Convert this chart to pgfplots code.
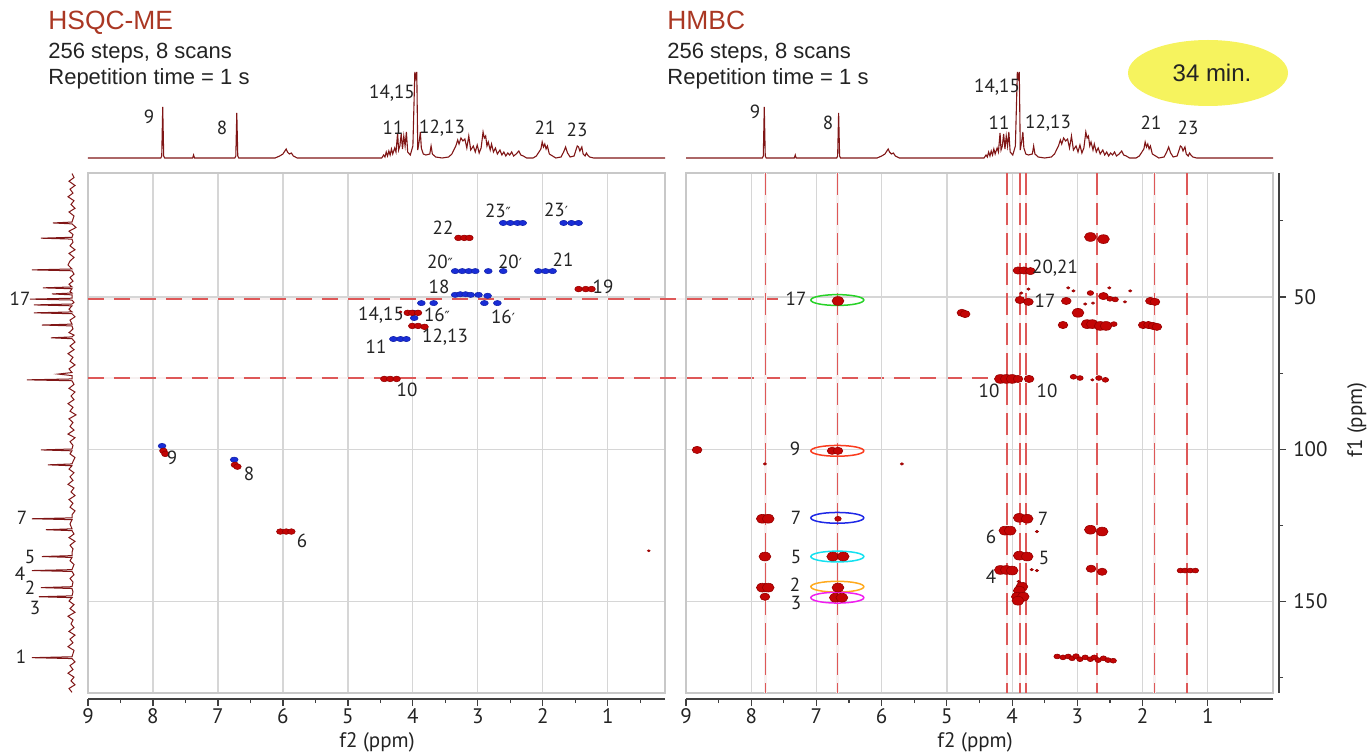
\documentclass[border=0pt]{standalone}
\usepackage{fontspec}
\setmainfont{Liberation Sans}
\newfontfamily\lab{PT Sans}
\newfontfamily\djv{DejaVu Sans}
\usepackage{pgfplots}
\pgfplotsset{compat=1.18}

\definecolor{specred}{RGB}{128,22,22}
\definecolor{titlered}{RGB}{170,55,35}
\definecolor{pkred}{RGB}{195,5,5}
\definecolor{pkedge}{RGB}{150,0,0}
\definecolor{pkblue}{RGB}{25,45,215}
\definecolor{gridc}{RGB}{214,214,214}
\definecolor{framec}{RGB}{200,200,200}
\definecolor{dashc}{RGB}{222,88,88}
\definecolor{palec}{RGB}{247,240,240}
\definecolor{txt}{RGB}{35,35,35}
\definecolor{yel}{RGB}{246,243,94}
\definecolor{egreen}{RGB}{40,210,40}
\definecolor{ered}{RGB}{250,60,30}
\definecolor{eblue}{RGB}{30,40,230}
\definecolor{ecyan}{RGB}{20,225,240}
\definecolor{eorange}{RGB}{255,170,30}
\definecolor{emag}{RGB}{240,30,240}

\newcommand\pr{{\djv\fontsize{7}{7}\selectfont\char"2032}}
\newcommand\dpr{{\djv\fontsize{7}{7}\selectfont\char"2033}}

\tikzset{
  vdash/.style={dashc, line width=0.7pt, dash pattern=on 11pt off 4pt},
  hdash/.style={dashc, line width=0.7pt, dash pattern=on 8pt off 5pt},
}
\pgfplotsset{
  twod/.style={scale only axis, height=260pt, ymin=9.3, ymax=180, y dir=reverse, x dir=reverse,
    xtick={1,...,8}, ytick={50,100,150}, xticklabels={}, yticklabels={}, major tick length=0pt,
    grid=major, major grid style={gridc, line width=0.6pt},
    axis line style={framec, line width=0.7pt}, clip=false},
  spec/.style={scale only axis, axis lines=none, ymin=-2, ymax=98, x dir=reverse, height=50pt},
  hr/.style={only marks, mark=*, mark size=#1, mark options={xscale=1.35, fill=pkred, draw=pkedge, line width=0.3pt}},
  hb/.style={only marks, mark=*, mark size=#1, mark options={xscale=1.5, fill=pkblue, draw=pkblue!80!black, line width=0.3pt}},
  xax/.style={scale only axis, height=2pt, ymin=0, ymax=1, x dir=reverse, axis y line=none, axis x line*=bottom,
    axis line style={-, draw=black!75, line width=0.6pt}, xtick={1,...,9}, minor xtick={0.5,1.5,...,8.5},
    tick align=outside, major tick length=3.6pt, minor tick length=2pt, tick style={black!75, line width=0.6pt},
    tick label style={font=\lab\fontsize{10.5}{11}\selectfont, text=txt, inner sep=1pt},
    /pgf/number format/assume math mode=true},
}

% 1H projection (ppm, height above baseline)
\pgfplotstableread{
x y
9.10 0
7.88 0
7.865 2
7.85 51
7.835 2
7.82 0
7.39 0
7.375 3
7.36 0
6.74 0
6.725 2
6.71 45
6.695 2
6.68 0
6.12 0
6.05 2
6.00 4
5.97 7
5.95 9
5.93 6
5.90 4
5.87 5
5.84 2
5.78 0
4.48 0
4.45 3
4.43 1
4.41 6
4.39 2
4.37 7
4.35 3
4.33 9
4.31 4
4.28 10
4.26 6
4.235 25
4.22 8
4.20 12
4.18 24
4.16 9
4.14 22
4.12 12
4.10 26
4.08 6
4.04 3
4.00 12
3.97 86
3.955 80
3.94 86
3.925 8
3.90 18
3.885 26
3.87 10
3.84 4
3.80 3
3.74 4
3.72 12
3.70 4
3.65 1
3.55 0
3.45 1
3.40 4
3.37 8
3.34 12
3.31 18
3.29 14
3.26 20
3.23 17
3.20 19
3.17 10
3.14 22
3.11 8
3.07 12
3.04 6
3.01 13
2.98 5
2.95 10
2.92 26
2.90 20
2.88 22
2.86 12
2.84 16
2.81 8
2.79 14
2.76 6
2.73 10
2.70 4
2.66 8
2.63 3
2.60 6
2.57 2
2.54 5
2.51 3
2.48 6
2.45 2
2.41 4
2.37 7
2.34 3
2.30 2
2.25 0
2.15 0
2.10 2
2.06 6
2.03 9
2.01 16
1.99 11
1.97 14
1.95 9
1.93 12
1.90 4
1.85 2
1.80 0
1.72 1
1.68 6
1.65 11
1.62 5
1.58 1
1.52 2
1.49 8
1.47 12
1.45 11
1.43 7
1.40 11
1.38 4
1.35 2
1.33 5
1.31 3
1.28 1
1.22 0
-0.20 0
}\protontable

% 13C projection (horizontal position, ppm)
\pgfplotstableread{
x y
72 9.5
74 10.8
69 12.0
75 13.4
70 14.6
73 15.9
68 17.1
74 18.4
71 19.6
75 20.9
69 22.1
74 23.4
72 25.4
53 25.7
72 26.0
76 27.2
69 28.4
73 29.5
72 30.4
41 30.7
72 31.0
73 32
70 33.2
75 34.5
69 35.7
74 37
70 38.2
68 39.5
72 40.8
32 41.1
72 41.4
74 42.5
70 43.6
73 44.8
69 45.8
72 46.7
43 47.0
72 47.3
70 48.2
72 48.7
52 49.0
72 49.3
72 50.4
30 50.7
72 51.0
74 51.8
72 52.3
34 52.6
72 52.9
69 54
72 54.9
34 55.2
72 55.5
75 56.5
70 57.6
72 58.9
42 59.2
72 59.5
73 60.5
69 61.7
74 62.5
72 63.1
51 63.4
72 63.7
75 64.8
70 66.1
74 67.3
68 68.6
73 69.8
70 71.1
75 72.3
69 73.6
72 74.8
58 75.3
72 75.8
72 76.9
27 77.2
72 77.5
74 78.7
69 80
75 81.2
71 82.5
74 83.7
68 85
73 86.2
70 87.5
76 88.7
69 90
73 91.2
70 92.5
74 93.7
68 95
75 96.2
70 97.5
73 98.7
72 99.9
41 100.2
72 100.5
70 101.5
75 102.7
73 104
72 104.8
48 105.1
72 105.4
69 106.5
74 107.7
70 109
73 110.2
68 111.5
74 112.7
71 114
75 115.2
69 116.5
73 117.7
70 119
75 120.2
72 121.5
72 122.5
32 122.8
72 123.1
70 124.5
72 126.1
46 126.4
72 126.7
74 127.8
69 129
75 130.2
70 131.5
73 132.7
72 133.8
72 134.9
42 135.2
72 135.5
70 136.6
74 137.8
72 139.5
32 139.8
72 140.1
74 141.2
70 142.4
73 143.6
72 145.1
41 145.4
72 145.7
73 146.8
72 148.1
39 148.4
72 148.7
69 149.8
74 151
70 152.3
75 153.5
68 154.8
73 156
71 157.3
74 158.5
69 159.8
75 161
70 162.3
73 163.5
68 164.8
74 166
72 168.1
32 168.4
72 168.7
75 169.8
70 171
73 172.3
68 173.5
74 174.8
71 176
75 177.3
69 178.5
72 179.8
}\carbontable

\begin{document}
\begin{tikzpicture}
\useasboundingbox (0,0) rectangle (684pt,375.5pt);

% ---------- top 1H projections
\begin{axis}[spec, at={(44pt,345.5pt)}, anchor=north west, width=288.5pt, xmin=0.12, xmax=9]
  \addplot[specred, line width=0.55pt] table[x=x, y=y] {\protontable};
\end{axis}
\begin{axis}[spec, at={(343pt,345.5pt)}, anchor=north west, width=293.5pt, xmin=0.05, xmax=9.05]
  \addplot[specred, line width=0.55pt] table[x=x, y=y] {\protontable};
\end{axis}

% ---------- left 13C projection
\begin{axis}[scale only axis, axis lines=none, at={(7.5pt,289pt)}, anchor=north west,
    width=32.5pt, height=260pt, xmin=15, xmax=80, ymin=9.3, ymax=180, y dir=reverse]
  \addplot[specred, line width=0.5pt] table[x=x, y=y] {\carbontable};
\end{axis}

% ---------- HSQC-ME
\begin{axis}[twod, at={(44pt,289pt)}, anchor=north west, width=288.5pt, xmin=0.12, xmax=9]
  \draw[palec, line width=1.2pt] (axis cs:9,50.7) -- (axis cs:-1.62,50.7);
  \draw[hdash] (axis cs:9,50.7) -- (axis cs:-1.62,50.7);
  \draw[palec, line width=1.2pt] (axis cs:9,76.6) -- (axis cs:-4.85,76.6);
  \draw[hdash] (axis cs:9,76.6) -- (axis cs:-4.85,76.6);
  % CH2 (negative)
  \addplot[hb=1.3pt] coordinates {
    (2.61,25.7) (2.50,25.7) (2.39,25.7) (2.31,25.7)
    (1.68,25.7) (1.56,25.7) (1.45,25.7)
    (3.35,41.5) (3.24,41.5) (3.14,41.5) (3.04,41.5) (2.84,41.5) (2.61,41.5)
    (2.07,41.5) (1.96,41.5) (1.85,41.5)
    (3.35,49.3) (3.27,49.1) (3.19,49.1) (3.11,49.3) (2.99,49.3) (2.85,49.6)
    (3.87,52.0) (3.68,52.0) (2.90,52.0) (2.70,52.0)
    (4.30,63.8) (4.19,63.8) (4.10,63.8)
    (3.99,55.2) (3.98,56.9)
    (7.86,98.9) (6.75,103.4)};
  % CH / CH3 (positive)
  \addplot[hr=1.4pt] coordinates {
    (3.30,30.6) (3.21,30.6) (3.13,30.6)
    (1.45,47.4) (1.34,47.4) (1.25,47.4)
    (4.08,55.2) (4.01,55.2) (3.92,55.2)
    (4.01,59.5) (3.92,59.5) (3.82,59.8)
    (4.44,76.9) (4.35,76.9) (4.25,76.9)
    (7.84,100.5) (7.81,101.5)
    (6.74,105.1) (6.70,105.7)
    (6.04,127.0) (5.95,127.0) (5.87,127.0)};
  \addplot[hr=0.5pt] coordinates {(4.19,54.9) (0.37,133.3)};
\end{axis}

% ---------- HMBC
\begin{axis}[twod, at={(343pt,289pt)}, anchor=north west, width=293.5pt, xmin=0, xmax=9]
  \pgfplotsinvokeforeach{7.78,6.68,4.08,3.88,3.79,2.70,1.82,1.32}{
    \draw[palec, line width=1.2pt] (axis cs:#1,9.3) -- (axis cs:#1,180);
    \draw[vdash] (axis cs:#1,9.3) -- (axis cs:#1,180);
  }
  % strong cross peaks
  \addplot[hr=2.2pt] coordinates {
    (6.67,51.3)
    (4.18,76.9) (4.09,76.9) (4.00,76.9)
    (4.18,139.6) (4.09,139.6) (4.00,139.8)
    (2.80,30.3) (2.60,31.0)
    (2.85,58.9) (2.77,58.9) (2.65,59.5) (2.56,59.5)
    (2.99,55.2)
    (7.83,122.8) (7.74,122.8)
    (7.79,135.2)
    (7.83,145.4) (7.74,145.4)
    (6.75,135.2) (6.59,135.2)
    (6.67,145.4)
    (6.71,148.7) (6.61,148.7)
    (4.11,126.7) (4.03,126.7)
    (3.89,122.5) (3.77,122.8)
    (3.89,134.9) (3.77,135.2)
    (3.85,145.1) (3.89,146.4) (3.92,148.4) (3.83,148.4) (3.91,149.7)
    (2.80,126.4) (2.62,127.0)};
  \addplot[hr=1.8pt] coordinates {
    (7.79,148.4)
    (3.91,41.3) (3.82,41.3) (3.72,41.5)
    (1.88,51.3) (1.81,51.6)
    (1.99,59.2) (1.91,59.2) (1.84,59.5) (1.78,59.8)
    (4.77,55.2) (4.72,55.6)
    (8.83,100.2)
    (6.76,100.5) (6.67,100.5)
    (3.88,51.0) (3.75,51.6)
    (3.91,76.9) (3.74,76.9)
    (3.17,51.3) (3.22,59.2) (2.60,49.7)
    (2.79,139.2) (2.62,140.2)};
  \addplot[hr=1.2pt] coordinates {
    (6.67,122.8) (2.80,48.7) (2.50,50.6) (2.42,50.8) (2.44,58.9)
    (3.06,76.2) (2.96,76.6) (2.67,76.6) (2.57,77.2)
    (1.42,139.8) (1.35,139.8) (1.27,139.8) (1.19,139.8)
    (3.31,168.0) (3.22,168.3) (3.14,168.0) (3.08,168.6) (3.02,167.9) (2.96,168.9)
    (2.88,168.3) (2.80,168.9) (2.74,168.3) (2.68,169.2) (2.60,168.6) (2.53,169.2) (2.45,169.4)};
  \addplot[hr=0.6pt] coordinates {
    (7.79,104.8) (5.69,104.8) (3.86,48.7) (3.75,47.4) (3.14,47.0) (3.06,48.0)
    (2.76,52.0) (2.51,47.0) (2.19,48.0) (2.27,51.6) (2.77,77.2) (3.62,127.0)
    (3.62,139.8) (2.88,52.3) (3.70,139.5) (3.90,143.4)};
  % highlight ellipses
  \draw[egreen, line width=0.75pt] (axis cs:6.68,51.0) ellipse [x radius=13.25pt, y radius=2.7pt];
  \draw[ered, line width=0.75pt] (axis cs:6.68,100.5) ellipse [x radius=13.25pt, y radius=2.7pt];
  \draw[eblue, line width=0.75pt] (axis cs:6.68,122.5) ellipse [x radius=13.25pt, y radius=2.7pt];
  \draw[ecyan, line width=0.75pt] (axis cs:6.68,135.2) ellipse [x radius=13.25pt, y radius=2.7pt];
  \draw[eorange, line width=0.75pt] (axis cs:6.68,145.1) ellipse [x radius=13.25pt, y radius=2.7pt];
  \draw[emag, line width=0.75pt] (axis cs:6.68,148.7) ellipse [x radius=13.25pt, y radius=2.7pt];
\end{axis}

% ---------- separate f2 axes and f1 axis
\begin{axis}[xax, at={(44pt,26pt)}, anchor=south west, width=288.5pt, xmin=0.12, xmax=9]
\end{axis}
\begin{axis}[xax, at={(343pt,26pt)}, anchor=south west, width=293.5pt, xmin=0, xmax=9]
\end{axis}
\begin{axis}[at={(639.5pt,289pt)}, anchor=north east, scale only axis, width=1pt, height=260pt,
    xmin=0, xmax=1, ymin=9.3, ymax=180, y dir=reverse, axis x line=none, axis y line*=right,
    axis line style={-, draw=black!75, line width=0.6pt}, ytick={50,100,150}, minor ytick={25,75,125,175},
    tick align=outside, major tick length=3.6pt, minor tick length=2pt, tick style={black!75, line width=0.6pt},
    tick label style={font=\lab\fontsize{10.5}{11}\selectfont, text=txt}, /pgf/number format/assume math mode=true]
\end{axis}

% ---------- texts, placed in image pixels
\begin{scope}[x=0.5pt, y=-0.5pt, yshift=375.5pt]
  \node[anchor=base west, inner sep=0, text=titlered, font=\fontsize{13.2}{14}\selectfont] at (48,30) {HSQC-ME};
  \node[anchor=base west, inner sep=0, text=txt, font=\fontsize{11}{12}\selectfont] at (48,59) {256 steps, 8 scans};
  \node[anchor=base west, inner sep=0, text=txt, font=\fontsize{11}{12}\selectfont] at (48,85) {Repetition time = 1 s};
  \node[anchor=base west, inner sep=0, text=titlered, font=\fontsize{13.2}{14}\selectfont] at (667,30) {HMBC};
  \node[anchor=base west, inner sep=0, text=txt, font=\fontsize{11}{12}\selectfont] at (667,59) {256 steps, 8 scans};
  \node[anchor=base west, inner sep=0, text=txt, font=\fontsize{11}{12}\selectfont] at (667,85) {Repetition time = 1 s};
  \fill[yel] (1208,73) ellipse [x radius=80, y radius=33];
  \node[text=txt, font=\fontsize{12}{13}\selectfont] at (1212,73) {34 min.};

  \begin{scope}[font=\lab\fontsize{9.5}{10}\selectfont, text=txt, inner sep=0]
    % top projections
    \node at (149,117) {9};   \node at (222,128) {8};   \node at (392,93) {14,15};
    \node at (393,128) {11};  \node at (442,128) {12,13}; \node at (545,128) {21}; \node at (577,130) {23};
    \node at (755,112) {9};   \node at (828,123) {8};   \node at (997,87) {14,15};
    \node at (999,123) {11};  \node at (1048,123) {12,13}; \node at (1151,123) {21}; \node at (1188,128) {23};
    % left 13C projection
    \node at (20,299) {17}; \node at (22,518) {7}; \node at (30,557) {5}; \node at (20,574) {4};
    \node at (30,588) {2};  \node at (35,608) {3}; \node at (21,657) {1};
    % HSQC labels
    \node at (498,211) {23\dpr}; \node at (556,210) {23\pr}; \node at (443,228) {22};
    \node at (440,262) {20\dpr}; \node at (510,262) {20\pr}; \node at (563,260) {21};
    \node at (603,287) {19};  \node at (439,287) {18};  \node at (381,315) {14,15};
    \node at (437,315) {16\dpr}; \node at (503,317) {16\pr}; \node at (445,337) {12,13};
    \node at (376,347) {11};  \node at (407,390) {10};  \node at (172,458) {9};
    \node at (249,474) {8};   \node at (302,541) {6};
    % HMBC labels
    \node at (796,299) {17}; \node at (795,449) {9}; \node at (796,518) {7}; \node at (796,557) {5};
    \node at (795,585) {2};  \node at (796,603) {3};
    \node at (1055,268) {20,21}; \node at (1045,301) {17}; \node at (989,391) {10}; \node at (1047,391) {10};
    \node at (1043,519) {7}; \node at (991,537) {6}; \node at (1044,558) {5}; \node at (991,577) {4};
  \end{scope}
  \node[text=txt, inner sep=1pt, font=\lab\fontsize{10.5}{11}\selectfont] at (377,742) {f2 (ppm)};
  \node[text=txt, inner sep=1pt, font=\lab\fontsize{10.5}{11}\selectfont] at (975,742) {f2 (ppm)};
  \node[text=txt, font=\lab\fontsize{10.5}{11}\selectfont, rotate=90] at (1357,420) {f1 (ppm)};
\end{scope}
\end{tikzpicture}
\end{document}
